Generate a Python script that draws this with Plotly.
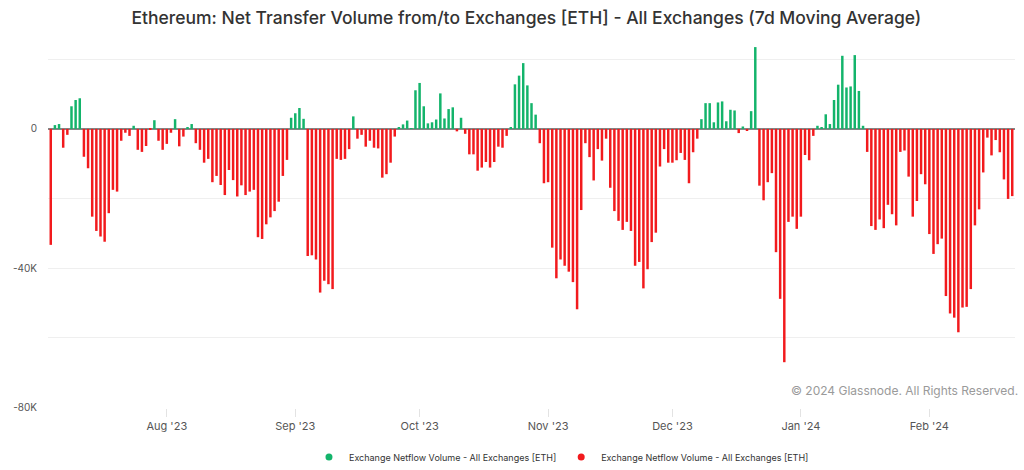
import numpy as np
import pandas as pd
import plotly.graph_objects as go

# Daily 7d-MA net transfer volume (ETH), 2023-07-04 .. 2024-02-21
start_date = "2023-07-04"
jul_2023 = [-33300, 1100, 1400, -5400, -1700, 6500, 8300, 8800, -8000, -11300,
            -25200, -29300, -30900, -32400, -24200, -17500, -18000, -3400, -1100, -2000,
            900, -6000, -6600, -4900, -300, 2500, -3400, -6000]
aug_2023 = [-4300, -1100, 2800, -5000, -2200, 500, 1400, -4100, -6000, -9700,
            -8600, -15300, -13500, -16100, -19000, -11800, -14700, -19400, -16200, -19000,
            -18000, -17500, -31100, -31600, -27400, -25400, -23600, -20900, -13500, -8900,
            3200]
sep_2023 = [4500, 6000, 2900, -36500, -36300, -37500, -47000, -43600, -44600, -46000,
            -8600, -8900, -8600, -5800, 3600, -2800, -1700, -5100, -3400, -5400,
            -5600, -14000, -13000, -9700, -2200, 500, 1300, 2400, 200, 11100]
oct_2023 = [13200, 6500, 1600, 1900, 2700, 10200, 3000, 5700, 6200, -700,
            3200, -1400, -7300, -7300, -12000, -11100, -9500, -11100, -9500, -5100,
            -5400, -2000, 500, 12800, 15300, 18900, 12500, 7400, 4100, -4100,
            -15600]
nov_2023 = [-15300, -34100, -42900, -37500, -39300, -41000, -44000, -51800, -23300, -4100,
            -8100, -14800, -5800, -9100, -2800, -16900, -23600, -26400, -29000, -26700,
            -29300, -39300, -38200, -45800, -40300, -32500, -29800, -10800, -5800, -9700]
dec_2023 = [-9700, -9000, -6900, -8900, -15600, -6700, -2800, 2800, 7400, 7400,
            1900, 7600, 7900, 2200, 5500, 5300, -1200, 700, -600, 5100,
            23500, -16300, -20500, -15300, -12700, -35400, -48800, -67000, -26700, -25200,
            -28700]
jan_2024 = [-25200, -7500, -9000, -2000, 900, 500, 4200, 1400, 8300, 12700,
            21000, 11900, 12200, 21200, 10900, 900, -6600, -27900, -29000, -26000,
            -28500, -21800, -24500, -27700, -6600, -6200, -13700, -25200, -20700, -13000,
            -15900]
feb_2024 = [-30200, -35900, -33100, -31500, -48000, -53000, -54200, -58400, -51300, -51100,
            -46000, -27700, -23100, -12500, -2500, -7600, -3200, -6700, -14500, -20100,
            -19300]

month_ticks = ["2023-08-01", "2023-09-01", "2023-10-01", "2023-11-01",
               "2023-12-01", "2024-01-01", "2024-02-01"]
month_labels = ["Aug '23", "Sep '23", "Oct '23", "Nov '23", "Dec '23", "Jan '24", "Feb '24"]
y_ticks = [20000, 0, -20000, -40000, -60000, -80000]
y_labels = ["", "0", "", "-40K", "", "-80K"]

series_name = "Exchange Netflow Volume - All Exchanges [ETH]"
title_text = "Ethereum: Net Transfer Volume from/to Exchanges [ETH] - All Exchanges (7d Moving Average)"

values = np.array(jul_2023 + aug_2023 + sep_2023 + oct_2023 + nov_2023 +
                  dec_2023 + jan_2024 + feb_2024, dtype=float)
dates = pd.date_range(start_date, periods=len(values), freq="D")

GREEN = "#13b46b"
RED = "#f21a1d"
pos = values >= 0
bar_w = 0.6 * 86400000

fig = go.Figure()
fig.add_trace(go.Bar(x=dates[pos], y=values[pos], marker=dict(color=GREEN, line=dict(width=0)),
                     width=bar_w, showlegend=False, name=series_name))
fig.add_trace(go.Bar(x=dates[~pos], y=values[~pos], marker=dict(color=RED, line=dict(width=0)),
                     width=bar_w, showlegend=False, name=series_name))
# legend entries (circle markers)
fig.add_trace(go.Scatter(x=[None], y=[None], mode="markers", name=series_name,
                         marker=dict(color=GREEN, size=7, symbol="circle")))
fig.add_trace(go.Scatter(x=[None], y=[None], mode="markers", name=series_name,
                         marker=dict(color=RED, size=7, symbol="circle")))

fig.update_layout(
    width=1024, height=470,
    margin=dict(l=48, r=9, t=45, b=62),
    paper_bgcolor="white", plot_bgcolor="white",
    barmode="overlay",
    font=dict(family="Inter, Roboto, sans-serif", color="#555555", size=11),
    title=dict(text=title_text, x=0.514, xanchor="center", y=1 - 18 / 470, yanchor="middle",
               font=dict(family="Inter, Roboto, sans-serif", size=17.5, color="#333333",
                         weight=500)),
    legend=dict(orientation="h", x=0.531, xanchor="center", yref="container",
                y=13 / 470, yanchor="middle", font=dict(size=9, color="#333333"),
                itemwidth=30, bgcolor="rgba(0,0,0,0)"),
    showlegend=True,
)
fig.update_xaxes(
    type="date",
    range=["2023-07-03 08:00", "2024-02-21 16:00"],
    tickvals=month_ticks, ticktext=month_labels,
    ticks="outside", ticklen=8, tickcolor="#e3e3e3",
    showgrid=False, zeroline=False, showline=False,
    tickfont=dict(size=11, color="#555555"),
)
fig.update_yaxes(
    range=[-80150, 24100],
    tickvals=y_ticks, ticktext=y_labels,
    showgrid=True, gridcolor="#efefef", gridwidth=1,
    zeroline=True, zerolinecolor="#858585", zerolinewidth=2,
    ticks="", showline=False,
    tickfont=dict(size=10, color="#555555"),
    ticklabelstandoff=10,
)
fig.add_annotation(text="© 2024 Glassnode. All Rights Reserved.", xref="paper", yref="paper",
                   x=1.005, y=0.049, xanchor="right", yanchor="middle", showarrow=False,
                   font=dict(size=12, color="#9a9a9a"))

fig.write_html("out.html", config={"displayModeBar": False},
               post_script="document.body.style.margin='0px';document.body.style.overflow='hidden';")
